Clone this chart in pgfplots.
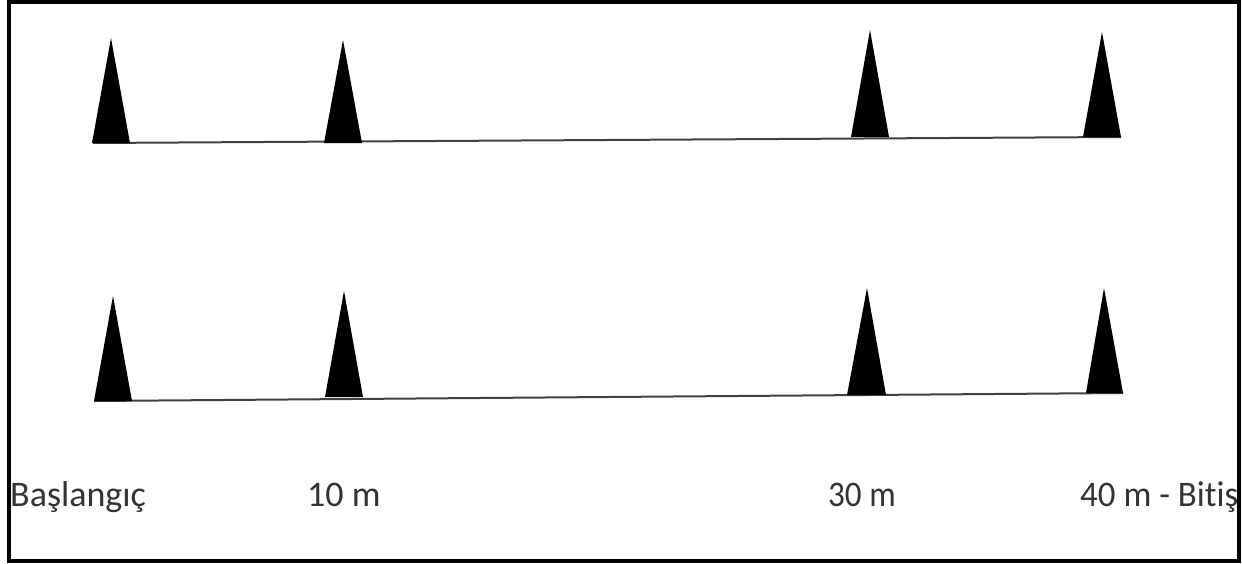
\documentclass[border=0pt]{standalone}
\usepackage{pgfplots}
\pgfplotsset{compat=1.18}
\usepackage{fontspec}
\setmainfont[Ligatures=NoCommon]{Carlito}

\begin{document}
\begin{tikzpicture}
\begin{axis}[
	scale only axis,
	width=1242bp, height=564bp,
	xmin=0, xmax=1242,
	ymin=0, ymax=564,
	y dir=reverse,
	hide axis,
	clip=false,
]
	% invisible corners: keep the page exactly the size of the axis
	\addplot[draw=none, forget plot] coordinates {(0,0) (1242,564)};

	% frame
	\addplot[black, line width=3.5bp] coordinates {
		(9,2) (1239,2) (1239,561) (9,561)
	} -- cycle;

	% baselines
	\addplot[black!75, line width=2bp] coordinates {(93,143) (1121,137)};
	\addplot[black!75, line width=2bp] coordinates {(94,401) (1123,393)};

	% cones, top row
	\addplot[fill=black, draw=none] coordinates {(92,143) (111,38) (130,143)} -- cycle;
	\addplot[fill=black, draw=none] coordinates {(324,143) (343,40) (362,143)} -- cycle;
	\addplot[fill=black, draw=none] coordinates {(851,137) (870,30) (889,137)} -- cycle;
	\addplot[fill=black, draw=none] coordinates {(1083,137) (1102,32) (1121,137)} -- cycle;

	% cones, bottom row
	\addplot[fill=black, draw=none] coordinates {(94,401) (113,296) (132,401)} -- cycle;
	\addplot[fill=black, draw=none] coordinates {(325,397) (344,291) (363,397)} -- cycle;
	\addplot[fill=black, draw=none] coordinates {(847,395) (867,288) (886,395)} -- cycle;
	\addplot[fill=black, draw=none] coordinates {(1086,393) (1104,288) (1123,393)} -- cycle;

	% labels
	\node[font=\fontsize{36bp}{36bp}\selectfont, text=black!80, anchor=base west, inner sep=0pt] at (axis cs:10,506) {Başlangıç};
	\node[font=\fontsize{36bp}{36bp}\selectfont, text=black!80, anchor=base west, inner sep=0pt] at (axis cs:307,506) {10 m};
	\node[font=\fontsize{36bp}{36bp}\selectfont, text=black!80, anchor=base west, inner sep=0pt, xscale=0.92] at (axis cs:828,506) {30 m};
	\node[font=\fontsize{36bp}{36bp}\selectfont, text=black!80, anchor=base west, inner sep=0pt, xscale=0.97] at (axis cs:1080,506) {40 m - Bitiş};
\end{axis}
\end{tikzpicture}
\end{document}
